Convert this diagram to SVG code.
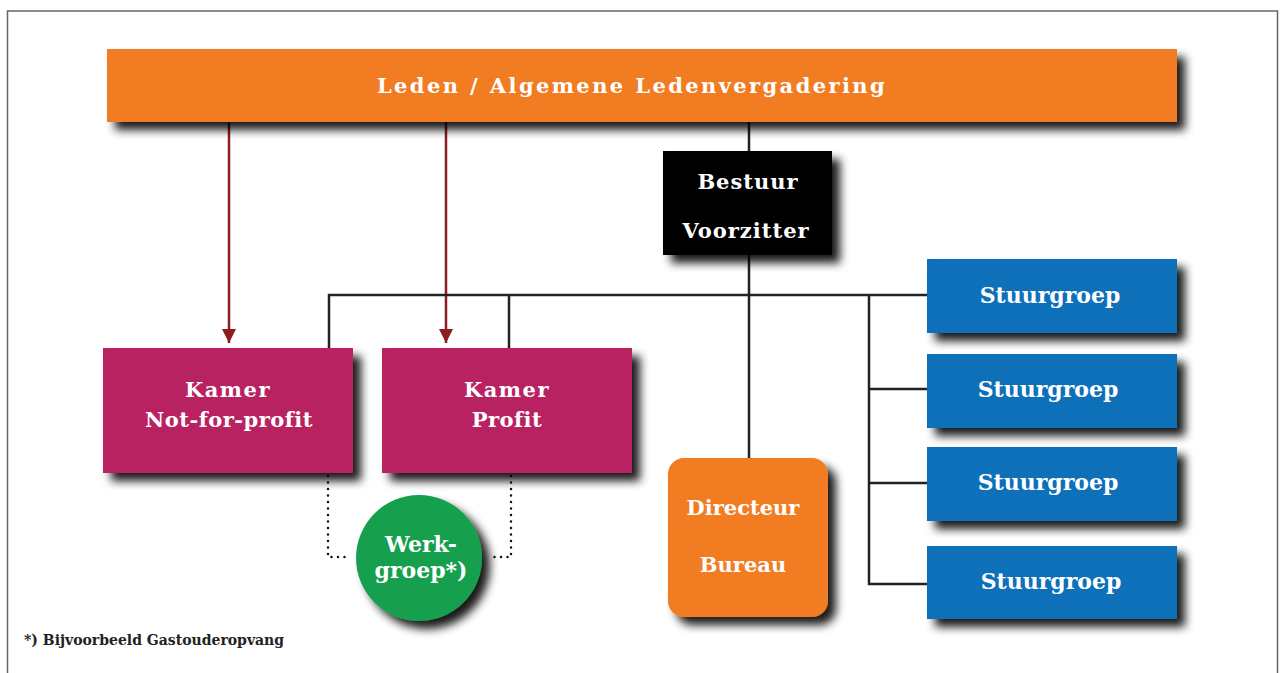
<svg xmlns="http://www.w3.org/2000/svg" width="1280" height="673" viewBox="0 0 1280 673">
<defs>
<filter id="sh" x="-20%" y="-20%" width="150%" height="160%">
<feGaussianBlur in="SourceAlpha" stdDeviation="5"/>
<feOffset dx="8" dy="8" result="b"/>
<feComponentTransfer><feFuncA type="linear" slope="0.9"/></feComponentTransfer>
<feMerge><feMergeNode/><feMergeNode in="SourceGraphic"/></feMerge>
</filter>
<marker id="ah" viewBox="0 0 10 10" refX="10" refY="5" markerWidth="14" markerHeight="14" markerUnits="userSpaceOnUse" orient="auto">
<path d="M0,0 L10,5 L0,10 Z" fill="#8E1B1F"/>
</marker>
<style>
.t{font-family:"DejaVu Serif","Liberation Serif",serif;font-weight:bold;fill:#fff;text-anchor:middle}
.ln{stroke:#222;stroke-width:2.5;fill:none}
.ar{stroke:#8E1B1F;stroke-width:2.5;fill:none}
.dt{stroke:#111;stroke-width:2.5;fill:none;stroke-dasharray:0 6.5;stroke-linecap:round}
</style>
</defs>
<rect x="0" y="0" width="1280" height="673" fill="#fff"/>
<rect x="7.5" y="11" width="1270" height="670" fill="none" stroke="#666" stroke-width="1.5"/>

<g id="connectors">
<line class="ar" x1="229" y1="122" x2="229" y2="343" marker-end="url(#ah)"/>
<line class="ar" x1="446" y1="122" x2="446" y2="343" marker-end="url(#ah)"/>
<line class="ln" x1="749" y1="122" x2="749" y2="458"/>
<polyline class="ln" points="329,348 329,295 928,295"/>
<line class="ln" x1="509" y1="295" x2="509" y2="348"/>
<polyline class="ln" points="869,295 869,584 928,584"/>
<line class="ln" x1="869" y1="389" x2="928" y2="389"/>
<line class="ln" x1="869" y1="483" x2="928" y2="483"/>
<polyline class="dt" points="328,476 328,557 350,557"/>
<polyline class="dt" points="511,476 511,557 489,557"/>
</g>

<g id="leden">
<rect x="107" y="49" width="1070" height="73" fill="#F27B24" filter="url(#sh)"/>
<text class="t" x="632" y="93" font-size="21" letter-spacing="2.4">Leden / Algemene Ledenvergadering</text>
</g>
<g id="bestuur">
<rect x="663" y="151" width="169" height="104" fill="#000" filter="url(#sh)"/>
<text class="t" x="748" y="189" font-size="21" letter-spacing="1">Bestuur</text>
<text class="t" x="746" y="238" font-size="21" letter-spacing="1">Voorzitter</text>
</g>
<g id="kamer-nfp">
<rect x="103" y="348" width="250" height="125" fill="#B82361" filter="url(#sh)"/>
<text class="t" x="228" y="397" font-size="21" letter-spacing="1.5">Kamer</text>
<text class="t" x="229" y="427" font-size="21" letter-spacing="0.5">Not-for-profit</text>
</g>
<g id="kamer-p">
<rect x="382" y="348" width="250" height="125" fill="#B82361" filter="url(#sh)"/>
<text class="t" x="507" y="397" font-size="21" letter-spacing="1.5">Kamer</text>
<text class="t" x="507" y="427" font-size="21" letter-spacing="0.5">Profit</text>
</g>
<g id="werkgroep">
<circle cx="419" cy="558" r="63" fill="#18A04D" filter="url(#sh)"/>
<text class="t" x="421" y="552" font-size="22">Werk-</text>
<text class="t" x="421" y="578" font-size="22">groep*)</text>
</g>
<g id="directeur">
<rect x="668" y="458" width="160" height="159" rx="16" fill="#F27B24" filter="url(#sh)"/>
<text class="t" x="743" y="515" font-size="21">Directeur</text>
<text class="t" x="743" y="572" font-size="21">Bureau</text>
</g>
<g id="stuurgroep1">
<rect x="927" y="259" width="250" height="74" fill="#0E6FB9" filter="url(#sh)"/>
<text class="t" x="1050" y="303" font-size="22">Stuurgroep</text>
</g>
<g id="stuurgroep2">
<rect x="927" y="354" width="250" height="74" fill="#0E6FB9" filter="url(#sh)"/>
<text class="t" x="1048" y="397" font-size="22">Stuurgroep</text>
</g>
<g id="stuurgroep3">
<rect x="927" y="447" width="250" height="74" fill="#0E6FB9" filter="url(#sh)"/>
<text class="t" x="1048" y="490" font-size="22">Stuurgroep</text>
</g>
<g id="stuurgroep4">
<rect x="927" y="546" width="250" height="73" fill="#0E6FB9" filter="url(#sh)"/>
<text class="t" x="1051" y="589" font-size="22">Stuurgroep</text>
</g>
<text x="24" y="645" font-family="DejaVu Serif, Liberation Serif, serif" font-weight="bold" font-size="14" fill="#222">*) Bijvoorbeeld Gastouderopvang</text>
</svg>
